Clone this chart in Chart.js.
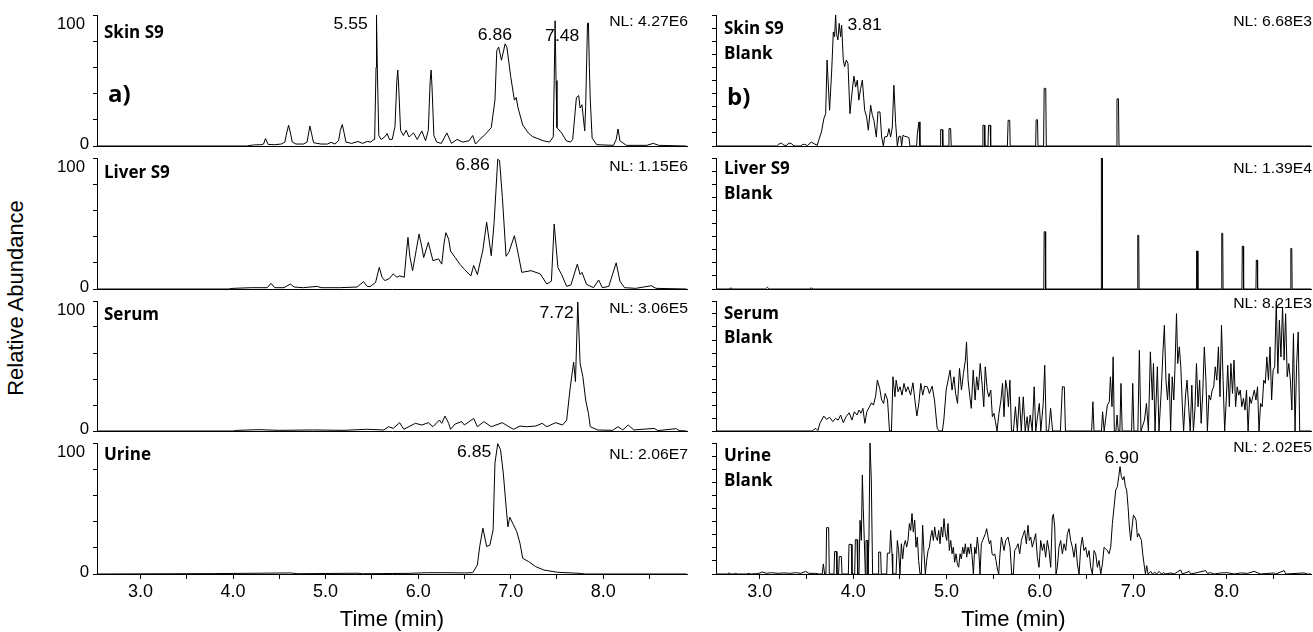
<!DOCTYPE html>
<html>
<head>
<meta charset="utf-8">
<script src="https://cdn.jsdelivr.net/npm/chart.js@4.4.1/dist/chart.umd.min.js"></script>
<style>
  html, body { margin: 0; padding: 0; background: #fff; }
  #page { position: relative; width: 1313px; height: 632px; overflow: hidden; background: #fff; }
  #page canvas { position: absolute; }
  #yTitle {
    position: absolute; left: 16px; top: 298px;
    transform: translate(-50%, -50%) rotate(-90deg);
    font: 22px "Liberation Sans", Arial, sans-serif; color: #000; white-space: nowrap;
  }
</style>
</head>
<body>
<div id="page">
  <div id="yTitle">Relative Abundance</div>
</div>
<script>
// === DATA (time in min, relative abundance in %) ===
const timeTicks = [3, 3.5, 4, 4.5, 5, 5.5, 6, 6.5, 7, 7.5, 8, 8.5];
const yTicksLeft = [0, 20, 40, 60, 80, 100];
const yTicksRight = [0, 10, 20, 30, 40, 50, 60, 70, 80, 90, 100];

const skinS9 = [
  [2.53,0],[4.15,0],[4.22,0.8],[4.3,1],[4.33,1.5],[4.35,5.7],[4.38,1.2],[4.45,1],[4.52,1.5],
  [4.56,3],[4.58,10],[4.60,15.8],[4.62,10],[4.64,3],[4.68,1.5],[4.76,1.5],
  [4.80,3],[4.82,11],[4.83,15.3],[4.85,9],[4.87,2.5],[4.95,1.5],[5.02,1.5],[5.06,2.8],[5.10,1.5],
  [5.14,4],[5.16,12],[5.18,16.4],[5.20,10],[5.22,3],[5.28,2],[5.35,3.4],[5.40,2],[5.45,3.5],[5.49,3],[5.51,4.5],
  [5.53,5],[5.545,60],[5.55,100],[5.56,55],[5.575,8],[5.60,5],[5.64,7],[5.665,9.5],[5.69,5],[5.72,5],
  [5.75,15],[5.77,50],[5.78,58],[5.79,45],[5.81,12],[5.84,8],[5.87,12],[5.90,7],[5.92,8],[5.95,10],[5.99,5],[6.04,11.5],[6.08,4],
  [6.11,12],[6.13,50],[6.14,58],[6.15,45],[6.17,8],[6.20,3],[6.25,2],[6.31,10],[6.36,2],[6.42,5],[6.48,3],[6.55,4],[6.59,8],[6.62,1.5],
  [6.68,6],[6.72,8.5],[6.79,14],[6.83,35],[6.85,73],[6.87,75.5],[6.90,65.5],[6.94,78],[6.96,75],[7.00,53],[7.04,35],[7.06,37],[7.08,29],
  [7.13,16],[7.19,10],[7.24,7],[7.28,6],[7.35,4],[7.42,3],
  [7.46,7],[7.47,50],[7.48,95.6],[7.49,50],[7.50,14],[7.55,10],[7.60,4],[7.645,3],[7.67,5],[7.71,37],[7.735,38.5],[7.75,29],[7.77,31.5],
  [7.80,11.5],[7.81,30],[7.83,93.6],[7.84,94],[7.85,60],[7.86,35],[7.88,6],[7.93,1],[8.11,0.5],[8.14,5],[8.16,13],[8.18,4],[8.25,0.5],
  [8.47,0.5],[8.54,2],[8.6,0.5],[8.9,0]
];

const liverS9 = [
  [2.53,0],[3.95,0],[4.0,0.5],[4.2,1],[4.37,1],[4.41,4.3],[4.45,1],[4.55,1],[4.62,3.8],[4.66,1.5],[4.76,1],[4.91,2],[4.95,1],
  [5.15,1],[5.34,1.5],[5.41,5.6],[5.45,2],[5.48,1.8],[5.54,5],[5.58,16.5],[5.61,9],[5.64,6.4],[5.69,8],[5.73,11.5],[5.77,9],
  [5.80,10],[5.85,9],[5.87,25],[5.89,39.4],[5.91,25],[5.94,14],[5.98,30],[6.01,42],[6.04,32],[6.06,24],[6.11,35.6],[6.16,21.6],
  [6.22,23],[6.255,19],[6.28,35],[6.30,43],[6.33,38],[6.35,29],[6.40,24],[6.45,19],[6.50,15],[6.57,10],[6.60,18],[6.64,11],
  [6.70,30],[6.74,51],[6.79,25.4],[6.82,50],[6.86,99],[6.88,98],[6.91,70],[6.95,25],[6.98,28],[7.04,40.7],[7.075,29],[7.12,12.7],
  [7.22,14],[7.32,11.5],[7.39,3.8],[7.44,6],[7.47,49.6],[7.51,16.5],[7.55,11],[7.605,2],[7.65,3],[7.72,19],[7.75,11],[7.77,12.7],
  [7.82,3.5],[7.895,1],[7.95,6.9],[7.99,1],[8.06,2],[8.14,20],[8.18,6],[8.23,1],[8.35,0.5],[8.52,2.5],[8.57,0.5],[8.9,0]
];

const serum = [
  [2.53,0],[4.0,0],[4.04,0.5],[4.28,1],[4.5,0.5],[4.86,0.8],[5.2,0.5],[5.44,1.3],[5.63,0.8],[5.68,3.3],[5.73,2],[5.80,6.4],
  [5.845,1.3],[5.97,5.9],[6.04,4.6],[6.11,6.4],[6.16,3.3],[6.23,8.4],[6.255,5.9],[6.29,11.5],[6.33,5.9],[6.35,1.3],[6.40,5.4],
  [6.47,7.2],[6.50,4.6],[6.60,9.7],[6.64,3.3],[6.71,7.2],[6.79,3.3],[6.91,6.4],[6.98,3.3],[7.03,1.3],[7.10,3.8],[7.17,3.3],
  [7.27,3.8],[7.34,5.9],[7.39,3.3],[7.485,6.4],[7.56,4.6],[7.605,8.4],[7.64,31.5],[7.68,53],[7.70,38],[7.725,99.2],[7.75,52],
  [7.78,41.7],[7.81,23.8],[7.84,13.5],[7.86,3.3],[7.94,0.8],[8.1,0.5],[8.16,3.3],[8.21,0.8],[8.27,4.6],[8.33,0.8],[8.55,2],
  [8.59,0.3],[8.79,1.8],[8.82,0.3],[8.9,0]
];

const urine = [
  [2.53,0],[3.8,0.3],[4.62,0.8],[4.7,0.2],[5.34,0.6],[5.4,0.2],[5.9,0.5],[6.1,1],[6.3,1],[6.5,0.8],[6.59,1],[6.64,6.9],
  [6.665,21],[6.70,35],[6.74,21],[6.775,22],[6.81,33.7],[6.83,84.7],[6.86,99.5],[6.89,95],[6.92,77],[6.95,51.5],[6.97,36],
  [6.99,43.4],[7.03,37.5],[7.065,32.4],[7.10,23.5],[7.13,12],[7.195,9.4],[7.27,5.6],[7.36,3],[7.51,1.3],[7.75,0.5],[7.8,0],[8.9,0]
];

const skinBlank = [
  [2.53,0],[3.18,0],[3.20,1.3],[3.23,2.3],[3.26,0.5],[3.29,0.5],[3.31,2.3],[3.34,1.8],[3.365,0],[3.44,0],[3.455,1],[3.48,1.3],
  [3.51,0.3],[3.55,3],[3.58,1.8],[3.615,0.5],[3.63,4.3],[3.66,10.7],[3.686,21],[3.705,24.7],[3.72,65.6],[3.747,27.3],[3.77,58],
  [3.787,87],[3.80,83.4],[3.812,100],[3.82,86],[3.836,81],[3.85,93.6],[3.865,83.4],[3.876,92.3],[3.894,65.6],[3.908,60.5],
  [3.926,65.6],[3.944,63],[3.965,24.7],[3.99,42.6],[4.008,53.3],[4.026,45],[4.044,50.3],[4.06,35],[4.08,43.9],[4.098,50.3],
  [4.123,27.3],[4.144,22.2],[4.162,12],[4.187,31.1],[4.205,23.5],[4.222,19.6],[4.248,6.9],[4.265,26],[4.287,26],[4.305,6.9],
  [4.323,0],[4.337,6.9],[4.366,7.4],[4.383,13.3],[4.401,6.9],[4.419,14.5],[4.436,46.4],[4.455,17.1],[4.473,0],[4.49,7.4],
  [4.508,7.4],[4.519,0],[4.533,8.2],[4.551,7.4],[4.58,6.9],[4.597,6.4],[4.608,0],[4.68,0],[4.687,9.4],[4.705,18.4],[4.715,0],
  [4.93,0],[4.937,12.5],[4.955,12.5],[4.96,0],[5.02,0],[5.026,13.3],[5.044,13.3],[5.05,0],[5.384,0],[5.39,15.8],[5.405,15.8],
  [5.41,0],[5.444,0],[5.45,15.8],[5.468,15.8],[5.473,0],[5.652,0],[5.66,19.6],[5.677,19.6],[5.682,0],[5.955,0],[5.96,20],
  [5.975,20],[5.98,0],[6.04,0],[6.046,44],[6.063,44],[6.069,0],[6.82,0],[6.826,36],[6.842,36],[6.848,0],[8.91,0]
];

const liverBlank = [
  [2.53,0],[2.67,0],[2.69,0.8],[2.71,0],[3.06,0],[3.08,1.3],[3.10,0],[3.53,0],[3.55,0.8],[3.57,0],
  [6.042,0],[6.046,43.7],[6.058,43.7],[6.062,0],[6.655,0],[6.659,100],[6.667,100],[6.671,0],
  [7.045,0],[7.049,41],[7.059,41],[7.063,0],[7.675,0],[7.679,29],[7.689,29],[7.693,0],
  [7.945,0],[7.949,42.5],[7.959,42.5],[7.963,0],[8.165,0],[8.169,32.7],[8.179,32.7],[8.183,0],
  [8.315,0],[8.319,22],[8.329,22],[8.333,0],[8.685,0],[8.689,31],[8.699,31],[8.703,0],[8.91,0]
];

const serumBlank = [
  [2.53,0],[3.56,0],[3.572,0.8],[3.601,2],[3.622,0.3],[3.643,5.9],[3.685,11.5],[3.714,9],[3.748,10.5],[3.781,7.2],[3.811,9.7],
  [3.84,8.4],[3.865,12.3],[3.894,6.4],[3.924,11],[3.957,14],[3.987,8.4],[4.012,14.8],[4.041,12.3],[4.062,16.1],[4.083,13.6],
  [4.104,17.4],[4.125,5.9],[4.146,14.8],[4.175,18.7],[4.196,21.7],[4.217,19.9],[4.242,27.6],[4.259,39.1],[4.284,32.7],
  [4.305,23.8],[4.326,21.2],[4.343,28.9],[4.368,23.8],[4.389,0],[4.41,0],[4.426,41.7],[4.447,26.3],[4.46,39.1],[4.481,30.2],
  [4.502,34],[4.523,27.6],[4.544,36.6],[4.565,30.2],[4.586,34],[4.615,27.6],[4.64,37.1],[4.661,23.8],[4.682,11.5],[4.703,21.2],
  [4.724,36.6],[4.745,27.6],[4.766,34.5],[4.795,34],[4.816,28.9],[4.846,34.5],[4.871,23.8],[4.9,2],[4.921,0],[4.955,0],
  [4.971,8.4],[4.996,31.5],[5.017,39.1],[5.038,46.8],[5.059,31.5],[5.08,41.7],[5.097,28.9],[5.118,21.2],[5.139,48.1],
  [5.16,31.5],[5.181,44.2],[5.202,54.5],[5.214,68.5],[5.231,39.1],[5.248,27.6],[5.265,17.4],[5.286,46.8],[5.306,23.8],
  [5.323,41.7],[5.34,31.5],[5.361,51.9],[5.382,35.3],[5.399,18.7],[5.415,49.4],[5.436,31.5],[5.453,26.3],[5.474,31.5],
  [5.491,11],[5.508,13.6],[5.524,7.2],[5.541,0],[5.562,13.6],[5.583,23.8],[5.6,36.6],[5.616,11],[5.633,39.1],[5.65,31.5],
  [5.663,18.7],[5.679,39.1],[5.696,0],[5.717,0],[5.738,18.7],[5.759,0],[5.78,26.3],[5.801,0],[5.822,26.3],[5.843,0],
  [5.864,11],[5.876,0],[5.897,12.3],[5.918,0],[5.939,34],[5.956,0],[5.977,12.3],[5.994,21.2],[6.01,0],[6.036,21.2],
  [6.052,50.6],[6.069,0],[6.094,0],[6.115,17.4],[6.136,0],[6.22,0],[6.241,34],[6.262,34],[6.274,0],[6.555,0],[6.568,22.5],
  [6.58,0],[6.66,0],[6.672,14.8],[6.689,0],[6.723,19.9],[6.744,22.5],[6.756,41.7],[6.773,18.7],[6.785,57],[6.798,0],
  [6.815,0],[6.827,12.3],[6.84,0],[6.857,0],[6.869,36.6],[6.882,0],[6.983,0],[6.995,36.6],[7.008,0],[7.05,0],[7.066,62.1],
  [7.083,0],[7.121,8.4],[7.142,21.2],[7.163,0],[7.184,60.9],[7.205,23.8],[7.217,51.9],[7.234,0],[7.259,49.4],[7.276,0],
  [7.301,31.5],[7.318,59.6],[7.334,81.3],[7.351,39.1],[7.368,23.8],[7.385,44.2],[7.401,0],[7.418,41.7],[7.435,23.8],
  [7.448,49.4],[7.464,90.3],[7.477,51.9],[7.494,64.7],[7.51,49.4],[7.527,18.7],[7.54,0],[7.561,27.6],[7.577,39.1],
  [7.594,18.7],[7.611,0],[7.628,35.3],[7.645,0],[7.661,16.1],[7.678,51.9],[7.695,18.7],[7.712,39.1],[7.728,5.9],[7.745,28.9],
  [7.762,64.7],[7.779,39.1],[7.795,0],[7.812,27.6],[7.829,23.8],[7.846,31.5],[7.863,34],[7.879,49.4],[7.896,39.1],
  [7.913,64.7],[7.93,26.3],[7.946,81.3],[7.963,39.1],[7.98,0],[7.997,23.8],[8.013,50.6],[8.03,18.7],[8.047,51.9],
  [8.064,28.9],[8.08,54.5],[8.097,18.7],[8.114,34],[8.131,27.6],[8.147,31.5],[8.164,18.7],[8.181,25.1],[8.198,16.1],
  [8.214,31.5],[8.231,0],[8.248,26.3],[8.265,21.2],[8.281,26.3],[8.298,31.5],[8.315,23.8],[8.332,34],[8.348,0],[8.365,21.2],
  [8.382,18.7],[8.399,39.1],[8.415,36.6],[8.432,57],[8.449,39.1],[8.466,64.7],[8.483,23.8],[8.499,46.8],[8.516,49.4],
  [8.533,100],[8.55,44.2],[8.566,85.2],[8.583,57],[8.6,95.4],[8.617,54.5],[8.633,90.3],[8.65,41.7],[8.667,51.9],[8.684,39.1],
  [8.7,16.1],[8.717,74.9],[8.734,0],[8.751,51.9],[8.768,76.2],[8.784,0],[8.91,0]
];

const urineBlank = [
  [2.53,0],[2.65,0],[2.669,0.8],[2.69,0],[2.72,0],[2.74,0.5],[2.76,0],[2.86,0],[2.883,0.5],[2.9,0],[2.98,0.3],[3.026,1.5],
  [3.07,0.5],[3.115,1],[3.2,0.5],[3.258,0.8],[3.32,0.5],[3.383,1],[3.44,0.5],[3.49,2],[3.526,0.5],[3.598,0.5],[3.633,0],
  [3.669,0],[3.68,7.7],[3.694,0],[3.708,0],[3.715,35.4],[3.737,35.4],[3.744,0],[3.794,0],[3.801,17.2],[3.819,17.2],[3.826,0],
  [3.844,0],[3.851,13.3],[3.873,13.3],[3.88,0],[3.948,0],[3.955,22.6],[3.98,22.6],[3.987,0],[4.016,0],[4.023,26.2],
  [4.041,26.2],[4.048,0],[4.062,0],[4.073,41],[4.087,25.6],[4.098,75.6],[4.108,50],[4.119,25.6],[4.13,0],[4.137,25.6],
  [4.151,25.6],[4.158,0],[4.169,28.2],[4.18,100],[4.194,71.8],[4.208,0],[4.266,0],[4.273,16.7],[4.294,16.7],[4.301,0],
  [4.359,0],[4.366,15.9],[4.391,15.9],[4.401,33.3],[4.416,15.4],[4.423,0],[4.459,0],[4.473,25.6],[4.487,17.9],[4.501,0],
  [4.516,23.1],[4.53,11.5],[4.544,21.8],[4.559,25.6],[4.573,20.5],[4.587,25.6],[4.602,38.5],[4.616,33.3],[4.63,46.2],
  [4.644,32],[4.659,41],[4.673,20.5],[4.687,28.2],[4.701,10.3],[4.716,0],[4.73,0],[4.744,37.2],[4.759,15.4],[4.773,0],
  [4.787,10.3],[4.802,17.9],[4.816,20.5],[4.83,28.2],[4.844,33.3],[4.859,25.6],[4.873,35.9],[4.887,28.2],[4.902,25.6],
  [4.916,33.3],[4.93,23.1],[4.944,35.9],[4.959,28.2],[4.973,42.3],[4.987,30.8],[5.002,25.6],[5.016,38.5],[5.03,17.9],
  [5.045,25.6],[5.059,15.4],[5.073,20.5],[5.087,9],[5.102,15.4],[5.116,7.7],[5.13,5.1],[5.145,15.4],[5.159,11.5],
  [5.173,20.5],[5.187,15.4],[5.202,23.1],[5.216,12.8],[5.23,20.5],[5.245,15.4],[5.259,23.1],[5.273,14.1],[5.288,0],
  [5.302,20.5],[5.316,15.4],[5.33,28.2],[5.345,17.9],[5.359,0],[5.373,23.1],[5.387,25.6],[5.402,28.2],[5.416,30.8],
  [5.43,34.6],[5.445,28.2],[5.459,23.1],[5.473,25.6],[5.488,15.4],[5.502,14.1],[5.516,15.4],[5.53,10.3],[5.545,3.8],
  [5.559,0],[5.573,15.4],[5.588,28.2],[5.616,17.9],[5.634,25.6],[5.659,28.2],[5.68,20.5],[5.698,0],[5.716,0],[5.73,17.9],
  [5.751,20.5],[5.766,23.1],[5.784,15.4],[5.802,25.6],[5.819,29.5],[5.837,33.3],[5.855,23.1],[5.873,37.2],[5.887,25.6],
  [5.902,28.2],[5.919,20.5],[5.937,25.6],[5.955,30.8],[5.973,12.8],[5.991,5.1],[6.009,25.6],[6.027,17.9],[6.044,23.1],
  [6.062,12.8],[6.08,25.6],[6.098,17.9],[6.116,5.1],[6.134,43.6],[6.145,45.6],[6.159,35.9],[6.173,0],[6.187,5.1],
  [6.205,20.5],[6.223,25.6],[6.241,15.4],[6.259,23.1],[6.277,17.9],[6.295,30.8],[6.312,34.6],[6.33,25.6],[6.348,20.5],
  [6.366,12.8],[6.384,23.1],[6.402,7.7],[6.42,0],[6.438,20.5],[6.455,28.2],[6.473,17.9],[6.491,20.5],[6.509,12.8],
  [6.527,17.9],[6.545,5.1],[6.563,0],[6.58,17.9],[6.598,15.4],[6.616,5.1],[6.634,10.3],[6.652,0],[6.67,7.7],[6.688,20.5],
  [6.705,19.2],[6.723,17.9],[6.741,15.4],[6.759,20.5],[6.777,38.5],[6.795,51.3],[6.813,64.1],[6.831,66.7],[6.845,74.4],
  [6.859,82],[6.873,74.4],[6.888,71.8],[6.902,74.4],[6.916,66.7],[6.93,64.1],[6.945,51.3],[6.959,35.9],[6.973,25.6],
  [6.988,35.9],[7.002,44.9],[7.016,43.6],[7.031,41],[7.045,28.2],[7.059,30.8],[7.073,28.2],[7.088,25.6],[7.102,15.4],
  [7.116,7.7],[7.131,0],[7.145,6.4],[7.159,0],[7.188,2],[7.206,0],[7.231,1.3],[7.252,0],[7.277,2],[7.302,0],[7.324,1],
  [7.349,0],[7.402,0.8],[7.438,0],[7.509,3.1],[7.527,0],[7.599,2],[7.617,0],[7.777,2.6],[7.795,0.5],[7.831,1],[7.867,0],
  [7.938,0.8],[8.009,1],[8.081,0],[8.152,0.8],[8.224,0.5],[8.295,2],[8.331,1],[8.367,0],[8.51,0.8],[8.527,0],[8.617,2.6],
  [8.635,0],[8.831,0.8],[8.867,0],[8.91,0]
];

// peak labels: [text, time, abundance] (label centre)
const skinLabels = [['5.55', 5.27, 92.3], ['6.86', 6.83, 84.2], ['7.48', 7.557, 83.2]];
const liverLabels = [['6.86', 6.59, 94.5]];
const serumLabels = [['7.72', 7.497, 90.3]];
const urineLabels = [['6.85', 6.605, 92.4]];
const skinBlankLabels = [['3.81', 4.122, 91.6]];
const urineBlankLabels = [['6.90', 6.877, 87.8]];

// === LAYOUT ===
const X_MIN = 2.53, X_MAX = 8.905;
const colLeft = [97, 716], colRight = [687, 1311];
const rowTop = [15, 158, 301, 443], rowBottom = [146, 289, 431, 574];
const PAGE_H = 632;
const ML = 70, MT = 16, MR = 4;
const SANS = '"Liberation Sans", Arial, sans-serif';
const BOLD = '"Open Sans", "Noto Sans", sans-serif';

// nameY / nlY: px from top of plot to text centre
const panels = [
  { data: skinS9, col: 0, row: 0, names: ['Skin S9'], nameY: [16.7], nl: 'NL: 4.27E6', nlY: 7, tag: 'a)', tagY: 86.5, labels: skinLabels },
  { data: liverS9, col: 0, row: 1, names: ['Liver S9'], nameY: [13.7], nl: 'NL: 1.15E6', nlY: 9, labels: liverLabels },
  { data: serum, col: 0, row: 2, names: ['Serum'], nameY: [12.7], nl: 'NL: 3.06E5', nlY: 7.4, labels: serumLabels },
  { data: urine, col: 0, row: 3, names: ['Urine'], nameY: [11.6], nl: 'NL: 2.06E7', nlY: 11.6, labels: urineLabels },
  { data: skinBlank, col: 1, row: 0, names: ['Skin S9', 'Blank'], nameY: [13, 38.3], nl: 'NL: 6.68E3', nlY: 7, tag: 'b)', tagY: 90, labels: skinBlankLabels },
  { data: liverBlank, col: 1, row: 1, names: ['Liver S9', 'Blank'], nameY: [10.5, 35.5], nl: 'NL: 1.39E4', nlY: 10.5, labels: [] },
  { data: serumBlank, col: 1, row: 2, names: ['Serum', 'Blank'], nameY: [11.7, 36.1], nl: 'NL: 8.21E3', nlY: 2.7, labels: [] },
  { data: urineBlank, col: 1, row: 3, names: ['Urine', 'Blank'], nameY: [12.3, 37.3], nl: 'NL: 2.02E5', nlY: 5, labels: urineBlankLabels }
];

// === TEXT HELPERS ===
function drawText(ctx, text, x, y, font, align, sx) {
  ctx.save();
  ctx.font = font;
  ctx.fillStyle = '#000';
  ctx.textAlign = align;
  ctx.textBaseline = 'middle';
  ctx.translate(x, y);
  ctx.scale(sx || 1, 1);
  ctx.fillText(text, 0, 0);
  ctx.restore();
}

function panelText(p) {
  return {
    id: 'panelText',
    afterDraw(chart) {
      const { ctx, chartArea: a, scales: { x, y } } = chart;
      // y axis numbers (left column only)
      if (p.col === 0) {
        drawText(ctx, '100', a.left - 12, a.top + 10, '16px ' + SANS, 'right', 1.05);
        drawText(ctx, '0', a.left - 8, a.bottom - 1.7, '16px ' + SANS, 'right', 1.05);
      }
      // sample names
      const nameX = p.col === 0 ? 7 : 8;
      p.names.forEach((n, i) => {
        drawText(ctx, n, a.left + nameX, a.top + p.nameY[i] + 1, '700 17px ' + BOLD, 'left');
      });
      if (p.tag) {
        ctx.save();
        ctx.font = '700 24px ' + BOLD;
        ctx.fillStyle = '#000';
        ctx.textBaseline = 'alphabetic';
        ctx.fillText(p.tag, a.left + 11, a.top + p.tagY);
        ctx.restore();
      }
      // NL value
      drawText(ctx, p.nl, a.right + 1, a.top + p.nlY, '15px ' + SANS, 'right', 1.05);
      // peak labels
      p.labels.forEach(([txt, t, v]) => {
        drawText(ctx, txt, x.getPixelForValue(t), y.getPixelForValue(v), '16px ' + SANS, 'center', 1.1);
      });
    }
  };
}

// === BUILD CHARTS ===
const page = document.getElementById('page');

panels.forEach(p => {
  const L = colLeft[p.col], R = colRight[p.col], T = rowTop[p.row], B = rowBottom[p.row];
  const last = p.row === 3;
  const MB = last ? PAGE_H - B : 6;
  const w = R - L + ML + MR, h = B - T + MT + MB;

  const cv = document.createElement('canvas');
  cv.width = w; cv.height = h;
  cv.style.left = (L - ML) + 'px';
  cv.style.top = (T - MT) + 'px';
  cv.style.width = w + 'px';
  cv.style.height = h + 'px';
  page.appendChild(cv);

  new Chart(cv, {
    type: 'line',
    data: {
      datasets: [{
        data: p.data.map(([t, v]) => ({ x: t, y: v })),
        borderColor: '#000',
        borderWidth: 1,
        pointRadius: 0,
        tension: 0,
        fill: false
      }]
    },
    options: {
      responsive: false,
      animation: false,
      devicePixelRatio: 1,
      events: [],
      layout: { padding: { left: 0, top: MT, right: MR, bottom: last ? 0 : MB }, autoPadding: false },
      plugins: { legend: { display: false }, tooltip: { enabled: false } },
      scales: {
        x: {
          type: 'linear',
          min: X_MIN,
          max: X_MAX,
          afterBuildTicks: s => { s.ticks = timeTicks.map(v => ({ value: v })); },
          afterFit: s => { s.height = last ? MB : 0; },
          border: { display: true, color: '#000', width: 1 },
          grid: { display: last, drawOnChartArea: false, drawTicks: true, tickLength: 5, color: '#000' },
          ticks: {
            display: last, autoSkip: false, maxRotation: 0, padding: 2, color: '#000',
            font: { family: SANS, size: 18 },
            callback: v => Number.isInteger(v) ? v.toFixed(1) : ''
          },
          title: {
            display: last, text: 'Time (min)', color: '#000',
            font: { family: SANS, size: 22, lineHeight: 1 },
            padding: { top: 0, bottom: 1 }
          }
        },
        y: {
          min: 0,
          max: 100,
          afterBuildTicks: s => { s.ticks = (p.col === 0 ? yTicksLeft : yTicksRight).map(v => ({ value: v })); },
          afterFit: s => { s.width = ML; },
          border: { display: true, color: '#000', width: 1 },
          grid: { display: true, drawOnChartArea: false, drawTicks: true, tickLength: 4, color: '#000' },
          ticks: { display: false }
        }
      }
    },
    plugins: [panelText(p)]
  });
});
</script>
</body>
</html>
